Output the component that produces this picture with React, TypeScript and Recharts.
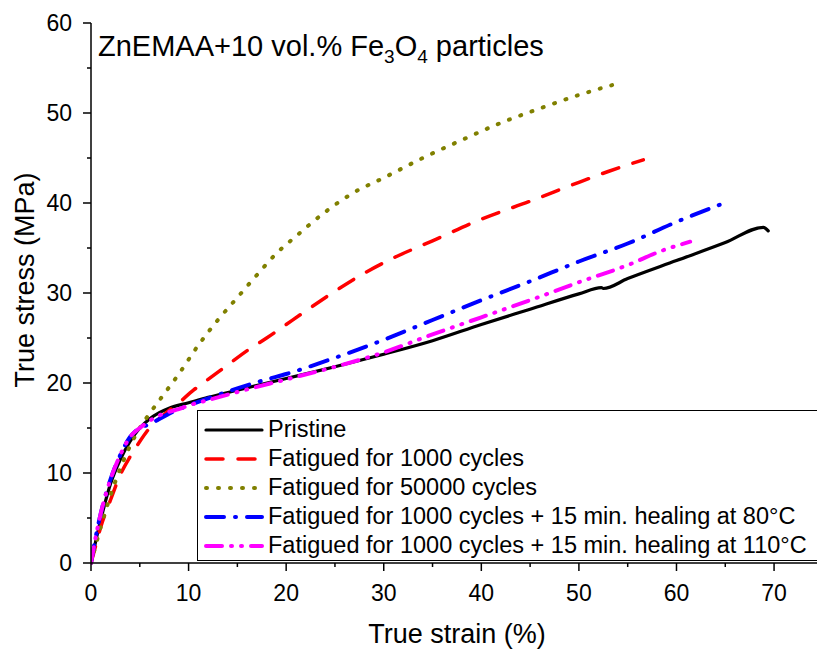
import React from 'react';
import { LineChart, Line, XAxis, YAxis, Customized } from 'recharts';

const pristineX = [0, 0.5, 1, 2, 3, 4, 5, 6, 7, 8, 10, 12, 15, 20, 25, 30, 35, 40, 45, 50, 52.3, 52.5, 55, 60, 65, 68.9, 69.4];
const pristineY = [0, 2.5, 4.8, 8.8, 11.5, 13.5, 15, 16, 16.7, 17.2, 17.8, 18.4, 19.2, 20.5, 21.8, 23.2, 24.7, 26.5, 28.2, 29.9, 30.6, 30.5, 31.6, 33.6, 35.6, 37.3, 36.9];

const fat1000X = [0, 0.5, 1, 2, 3, 4, 5, 6, 7.5, 9, 10.5, 12, 14, 16, 18, 20, 22, 25, 28, 31, 35, 40, 45, 50, 53, 56.6];
const fat1000Y = [0, 2, 4, 7, 9.8, 11.8, 13.5, 15, 16.5, 17.8, 19.2, 20.4, 22, 23.6, 25, 26.5, 28, 30.2, 32.2, 33.9, 35.8, 38.2, 40.2, 42.3, 43.5, 44.8];

const fat50000X = [0, 1, 2, 3, 4, 5, 6, 7.5, 9, 11, 13, 15, 17, 19, 21, 24, 27, 30, 34, 38, 42, 46, 50, 53.4];
const fat50000Y = [0, 4, 7.5, 10.5, 13, 15, 16.6, 18.8, 21, 24.2, 27, 29.5, 32, 34.4, 36.3, 39, 41.2, 42.8, 45, 47, 48.9, 50.5, 52, 53.1];

const heal80X = [0, 0.5, 1, 2, 3, 4, 5, 6, 7, 8, 10, 12, 15, 18, 20, 25, 30, 35, 40, 45, 50, 55, 60, 64.9];
const heal80Y = [0, 3, 5.5, 9.3, 12, 14, 15, 15.4, 16, 16.6, 17.5, 18.3, 19.4, 20.4, 21, 22.8, 24.8, 27, 29.2, 31.3, 33.5, 35.5, 37.9, 40];

const heal110X = [0, 0.5, 1, 2, 3, 4, 5, 6, 7, 8, 9, 10, 12, 15, 20, 25, 30, 35, 40, 45, 50, 55, 58.5, 61.4];
const heal110Y = [0, 3, 5.5, 9.3, 12, 14, 15, 15.8, 16.4, 16.8, 17.1, 17.5, 18.1, 19, 20.4, 21.8, 23.4, 25.4, 27.3, 29.2, 31.2, 33.1, 34.7, 35.7];

const xTicks = [0, 5, 10, 15, 20, 25, 30, 35, 40, 45, 50, 55, 60, 65, 70];
const yTicks = [0, 5, 10, 15, 20, 25, 30, 35, 40, 45, 50, 55, 60];

const toPoints = (xs: number[], ys: number[]) => xs.map((x, i) => ({ x, y: ys[i] }));

const series = [
  { name: 'Pristine', data: toPoints(pristineX, pristineY), color: '#000000', dash: undefined, width: 3.2 },
  { name: 'Fatigued for 1000 cycles', data: toPoints(fat1000X, fat1000Y), color: '#ff0000', dash: '17 15', width: 3.5 },
  { name: 'Fatigued for 50000 cycles', data: toPoints(fat50000X, fat50000Y), color: '#808000', dash: '1 11', width: 4 },
  { name: 'Fatigued for 1000 cycles + 15 min. healing at 80°C', data: toPoints(heal80X, heal80Y), color: '#0000ff', dash: '18 11 1 11', width: 4 },
  { name: 'Fatigued for 1000 cycles + 15 min. healing at 110°C', data: toPoints(heal110X, heal110Y), color: '#ff00ff', dash: '16 9 1 9 1 9', width: 4 },
];

const font = 'Arial, "Liberation Sans", sans-serif';

const XTick = (props: any) => {
  const { x, y, payload } = props;
  const major = payload.value % 10 === 0;
  return (
    <g>
      <line x1={x} x2={x} y1={y} y2={y + (major ? 8 : 4)} stroke="#000" strokeWidth={1.5} />
      {major && (
        <text x={x} y={y + 38} textAnchor="middle" fontSize={23} fontFamily={font} fill="#000">
          {payload.value}
        </text>
      )}
    </g>
  );
};

const YTick = (props: any) => {
  const { x, y, payload } = props;
  const major = payload.value % 10 === 0;
  return (
    <g>
      <line x1={x} x2={x - (major ? 8 : 4)} y1={y} y2={y} stroke="#000" strokeWidth={1.5} />
      {major && (
        <text x={x - 19} y={y + 8} textAnchor="end" fontSize={23} fontFamily={font} fill="#000">
          {payload.value}
        </text>
      )}
    </g>
  );
};

const Texts = () => (
  <g fontFamily={font} fill="#000">
    <text x={98} y={56} fontSize={29}>
      ZnEMAA+10 vol.% Fe
      <tspan fontSize={19} dy={7}>3</tspan>
      <tspan dy={-7}>O</tspan>
      <tspan fontSize={19} dy={7}>4</tspan>
      <tspan dy={-7}> particles</tspan>
    </text>
    <text x={457} y={643} fontSize={27} textAnchor="middle">True strain (%)</text>
    <text x={0} y={0} fontSize={27} textAnchor="middle" transform="translate(34 280) rotate(-90)">True stress (MPa)</text>
  </g>
);

export default function App() {
  return (
    <div style={{ position: 'fixed', left: 0, top: 0, width: 817, height: 651, background: '#fff', overflow: 'hidden' }}>
      <LineChart width={817} height={651} margin={{ top: 23, right: 0, bottom: 0, left: 0 }}>
        <XAxis
          xAxisId="main"
          type="number"
          dataKey="x"
          domain={[0, 74.4]}
          ticks={xTicks}
          allowDataOverflow
          height={88}
          tickLine={false}
          tickSize={0}
          tickMargin={0}
          tick={<XTick />}
          axisLine={{ stroke: '#000', strokeWidth: 1.5 }}
        />
        <XAxis xAxisId="top" orientation="top" type="number" domain={[0, 74.4]} height={0} tick={false} tickLine={false} axisLine={{ stroke: '#000', strokeWidth: 1.5 }} />
        <YAxis
          type="number"
          domain={[0, 60]}
          ticks={yTicks}
          width={91}
          tickLine={false}
          tickSize={0}
          tickMargin={0}
          tick={<YTick />}
          axisLine={{ stroke: '#000', strokeWidth: 1.5 }}
        />
        {series.map((s) => (
          <Line
            key={s.name}
            xAxisId="main"
            data={s.data}
            dataKey="y"
            name={s.name}
            type="monotone"
            stroke={s.color}
            strokeWidth={s.width}
            strokeDasharray={s.dash}
            strokeLinecap="round"
            dot={false}
            activeDot={false}
            isAnimationActive={false}
          />
        ))}
        <Customized component={<Texts />} />
      </LineChart>
      <div
        style={{
          position: 'absolute',
          left: 197,
          top: 410,
          width: 640,
          height: 151,
          border: '1px solid #000',
          background: '#fff',
          boxSizing: 'border-box',
          paddingTop: 4,
          fontFamily: font,
          fontSize: 23.5,
        }}
      >
        {series.map((s) => (
          <div key={s.name} style={{ display: 'flex', alignItems: 'center', height: 29, whiteSpace: 'nowrap' }}>
            <svg width={66} height={12} style={{ marginLeft: 4, flex: 'none' }}>
              <line x1={4} x2={60} y1={6} y2={6} stroke={s.color} strokeWidth={s.width} strokeDasharray={s.dash} strokeLinecap="round" />
            </svg>
            <span>{s.name}</span>
          </div>
        ))}
      </div>
    </div>
  );
}
